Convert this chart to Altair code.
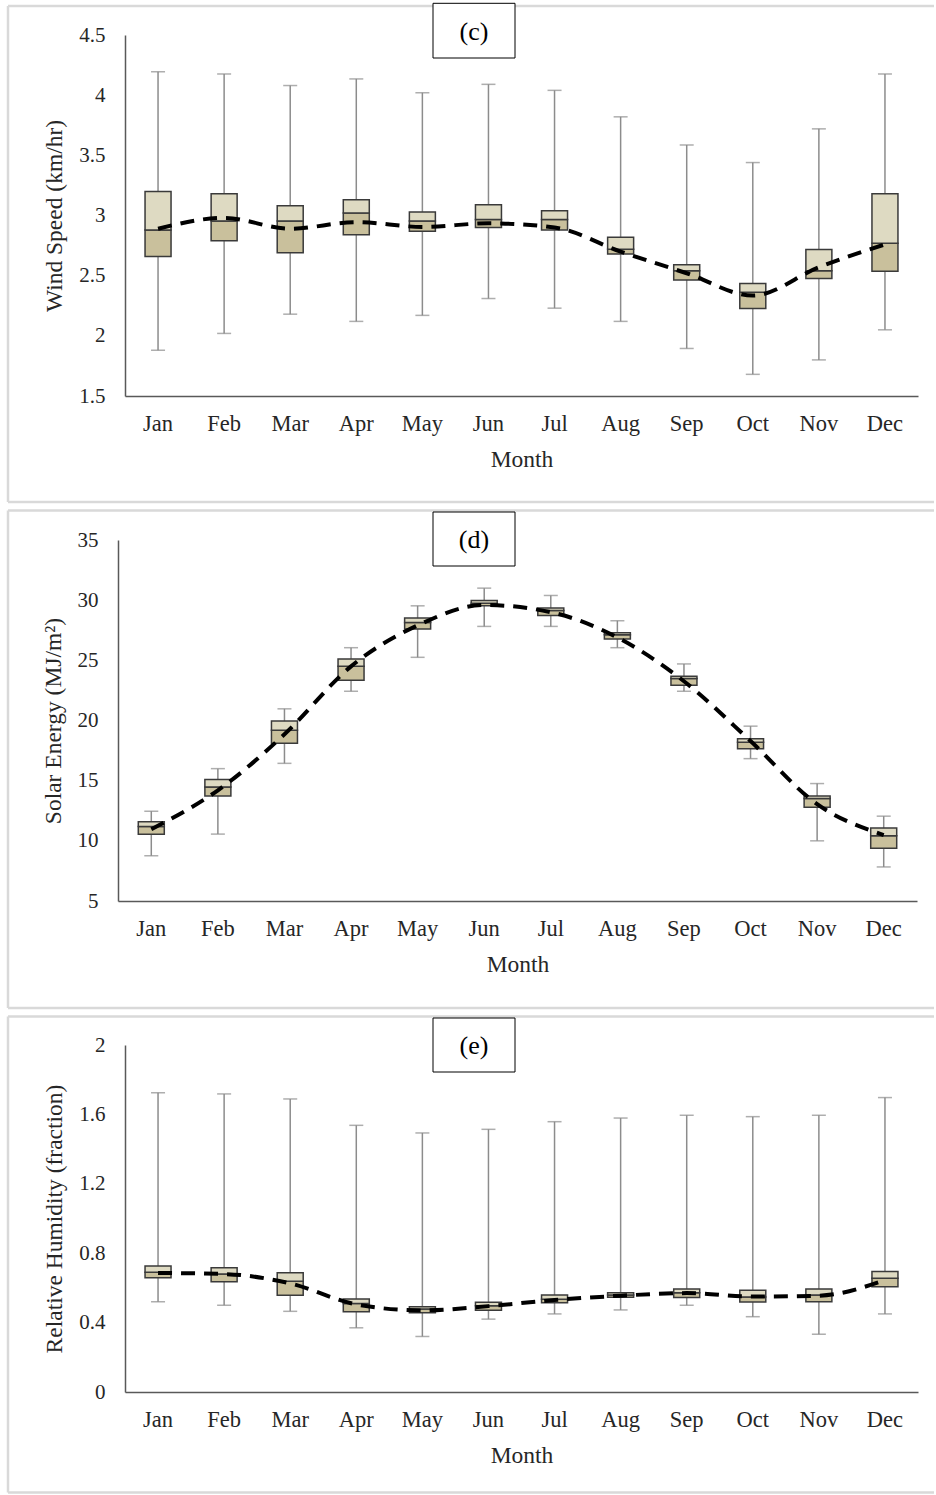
import altair as alt
import pandas as pd

months = ["Jan", "Feb", "Mar", "Apr", "May", "Jun", "Jul", "Aug", "Sep", "Oct", "Nov", "Dec"]

# Panel (c) Wind Speed (km/hr)
c_min = [1.88, 2.02, 2.18, 2.12, 2.17, 2.31, 2.23, 2.12, 1.895, 1.68, 1.80, 2.05]
c_q1 = [2.66, 2.79, 2.69, 2.84, 2.87, 2.90, 2.88, 2.68, 2.465, 2.227, 2.476, 2.537]
c_med = [2.88, 2.955, 2.955, 3.02, 2.955, 2.966, 2.966, 2.72, 2.54, 2.363, 2.54, 2.77]
c_q3 = [3.20, 3.18, 3.08, 3.13, 3.03, 3.09, 3.04, 2.82, 2.59, 2.435, 2.717, 3.18]
c_max = [4.195, 4.176, 4.08, 4.135, 4.02, 4.09, 4.04, 3.82, 3.586, 3.44, 3.72, 4.176]
c_mean = [2.89, 2.98, 2.89, 2.945, 2.905, 2.935, 2.90, 2.70, 2.52, 2.335, 2.57, 2.76]

# Panel (d) Solar Energy (MJ/m2)
d_min = [8.76, 10.56, 16.44, 22.43, 25.25, 27.82, 27.82, 26.05, 22.43, 16.83, 10.0, 7.83]
d_q1 = [10.54, 13.73, 18.1, 23.34, 27.6, 29.53, 28.73, 26.77, 22.92, 17.65, 12.8, 9.38]
d_med = [11.2, 14.48, 19.18, 24.5, 28.15, 29.75, 29.14, 27.13, 23.5, 18.2, 13.52, 10.42]
d_q3 = [11.58, 15.09, 19.95, 25.12, 28.51, 29.97, 29.34, 27.3, 23.67, 18.49, 13.73, 11.06]
d_max = [12.46, 16.0, 20.97, 26.05, 29.53, 31.0, 30.39, 28.29, 24.7, 19.53, 14.76, 12.05]
d_mean = [10.97, 14.2, 18.85, 24.5, 27.9, 29.6, 29.0, 26.9, 23.26, 18.29, 13.05, 10.48]

# Panel (e) Relative Humidity (fraction)
e_min = [0.52, 0.50, 0.465, 0.37, 0.32, 0.42, 0.45, 0.473, 0.50, 0.434, 0.333, 0.45]
e_q1 = [0.659, 0.636, 0.557, 0.463, 0.457, 0.471, 0.515, 0.546, 0.544, 0.519, 0.52, 0.607]
e_med = [0.69, 0.68, 0.638, 0.51, 0.478, 0.497, 0.534, 0.559, 0.572, 0.548, 0.559, 0.655]
e_q3 = [0.726, 0.716, 0.688, 0.536, 0.492, 0.517, 0.559, 0.572, 0.594, 0.586, 0.594, 0.695]
e_max = [1.725, 1.718, 1.689, 1.537, 1.493, 1.514, 1.558, 1.579, 1.595, 1.587, 1.595, 1.697]
e_mean = [0.686, 0.68, 0.626, 0.505, 0.47, 0.495, 0.53, 0.555, 0.57, 0.55, 0.555, 0.645]

c_ticks = [1.5, 2, 2.5, 3, 3.5, 4, 4.5]
d_ticks = [5, 10, 15, 20, 25, 30, 35]
e_ticks = [0, 0.4, 0.8, 1.2, 1.6, 2]

FONT = "Liberation Serif"
TXT = "#262626"
AX = "#595959"
FRAME = "#D9D9D9"
LIGHT = "#DEDAC2"
DARK = "#C9C09C"
EDGE = "#3a3a3a"
WHISK = "#8c8c8c"


def panel(vals, ytitle, yticks, ydom, w, h, xrange, yoff, frame, box, label):
    lo, q1, med, q3, hi, mean = vals
    df = pd.DataFrame({"month": months, "lo": lo, "q1": q1, "med": med,
                       "q3": q3, "hi": hi, "mean": mean})
    xenc = alt.X("month:N", sort=months,
                 scale=alt.Scale(paddingInner=0, paddingOuter=0, range=xrange),
                 axis=alt.Axis(title="Month", labelAngle=0, ticks=False, tickSize=0,
                               grid=False, domainColor=AX, domainWidth=1.5,
                               labelFont=FONT, labelFontSize=22.5, labelColor=TXT,
                               labelPadding=16, titleFont=FONT, titleFontSize=23.5,
                               titleFontWeight="normal", titleColor=TXT, titlePadding=13))
    yscale = alt.Scale(domain=ydom, nice=False, zero=False)
    yaxis = alt.Axis(title=ytitle, values=yticks, format="~g", ticks=False, tickSize=0,
                     grid=False, domainColor=AX, domainWidth=1.5, offset=yoff,
                     labelFont=FONT, labelFontSize=21, labelColor=TXT, labelPadding=20,
                     titleFont=FONT, titleFontSize=23.5, titleFontWeight="normal",
                     titleColor=TXT, titlePadding=12)

    def Y(f):
        return alt.Y(f, scale=yscale, axis=yaxis)

    base = alt.Chart(df)
    whisk = base.mark_rule(color=WHISK, strokeWidth=1.5).encode(x=xenc, y=Y("lo:Q"), y2="hi:Q")
    cap_lo = base.mark_tick(color=WHISK, size=14, thickness=1.5).encode(x=xenc, y=Y("lo:Q"))
    cap_hi = base.mark_tick(color=WHISK, size=14, thickness=1.5).encode(x=xenc, y=Y("hi:Q"))
    low_box = base.mark_bar(size=26, fill=DARK, stroke=EDGE, strokeWidth=1.5).encode(
        x=xenc, y=Y("q1:Q"), y2="med:Q")
    up_box = base.mark_bar(size=26, fill=LIGHT, stroke=EDGE, strokeWidth=1.5).encode(
        x=xenc, y=Y("med:Q"), y2="q3:Q")
    line = base.mark_line(color="black", strokeWidth=4, strokeDash=[14, 9],
                          interpolate="monotone").encode(x=xenc, y=Y("mean:Q"))

    one = alt.Chart(pd.DataFrame({"k": [0]}))
    fl, ft, fb, fr = frame
    top_rule = one.mark_rule(color=FRAME, strokeWidth=2.5).encode(
        x=alt.value(fl), x2=alt.value(fr), y=alt.value(ft), y2=alt.value(ft))
    bot_rule = one.mark_rule(color=FRAME, strokeWidth=2.5).encode(
        x=alt.value(fl), x2=alt.value(fr), y=alt.value(fb), y2=alt.value(fb))
    left_rule = one.mark_rule(color=FRAME, strokeWidth=2.5).encode(
        x=alt.value(fl), x2=alt.value(fl), y=alt.value(ft), y2=alt.value(fb))

    bx1, by1, bx2, by2 = box
    label_box = one.mark_rect(fill="white", stroke="black", strokeWidth=1).encode(
        x=alt.value(bx1), x2=alt.value(bx2), y=alt.value(by1), y2=alt.value(by2))
    label_txt = one.mark_text(text=label, font=FONT, fontSize=26, color="black",
                              align="center", baseline="middle").encode(
        x=alt.value((bx1 + bx2) / 2), y=alt.value((by1 + by2) / 2 + 1))

    return alt.layer(whisk, cap_lo, cap_hi, low_box, up_box, line,
                     top_rule, bot_rule, left_rule, label_box, label_txt).properties(
        width=w, height=h)


pc = panel((c_min, c_q1, c_med, c_q3, c_max, c_mean), "Wind Speed (km/hr)",
           c_ticks, [1.5, 4.5], 793, 361, [0, 793], 0,
           (-117, -29, 467, 809), (308, -31.7, 390, 23), "(c)")
pd_ = panel((d_min, d_q1, d_med, d_q3, d_max, d_mean), "Solar Energy (MJ/m²)",
            d_ticks, [5, 35], 792, 361, [-7, 792], 7,
            (-117, -29.5, 468, 809), (308, -28, 390, 26), "(d)")
pe = panel((e_min, e_q1, e_med, e_q3, e_max, e_mean), "Relative Humidity (fraction)",
           e_ticks, [0, 2], 793, 347, [0, 793], 0,
           (-117, -28.5, 447.5, 809), (308, -27, 390, 27), "(e)")

chart = alt.vconcat(pc, pd_, pe, spacing=144, bounds="flush").properties(
    padding={"left": 6, "top": 2, "right": 0, "bottom": 0},
    background="white",
).configure_view(strokeWidth=0)

chart.save("out.html", embed_options={"renderer": "svg", "actions": False})
